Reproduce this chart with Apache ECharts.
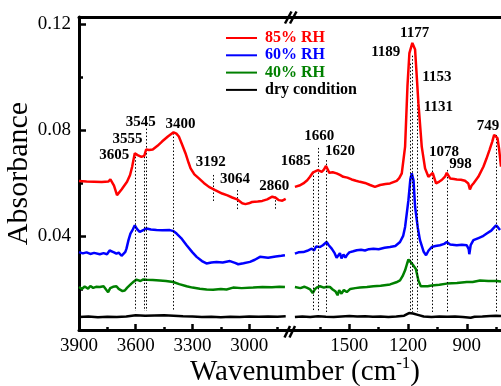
<!DOCTYPE html>
<html>
<head>
<meta charset="utf-8">
<script src="https://cdn.jsdelivr.net/npm/echarts@6/dist/echarts.min.js"></script>
<style>
  html, body { margin: 0; padding: 0; background: #fff; }
  #chart { width: 501px; height: 386px; }
</style>
</head>
<body>
<div id="chart"></div>
<script>
// spectra: [wavenumber, absorbance]
var red85L = [[3900,0.0607],[3860,0.0605],[3820,0.0604],[3780,0.0603],[3745,0.0605],[3734,0.0613],[3715,0.0590],[3699,0.0554],[3675,0.0575],[3646,0.0604],[3630,0.0630],[3619,0.0661],[3605,0.0712],[3590,0.0705],[3570,0.0698],[3555,0.0702],[3545,0.0726],[3530,0.0724],[3510,0.0726],[3485,0.0740],[3461,0.0756],[3430,0.0775],[3400,0.0791],[3385,0.0786],[3372,0.0775],[3355,0.0745],[3337,0.0712],[3320,0.0675],[3310,0.0655],[3290,0.0632],[3266,0.0617],[3240,0.0600],[3213,0.0585],[3180,0.0573],[3143,0.0560],[3115,0.0553],[3090,0.0545],[3064,0.0538],[3037,0.0523],[3020,0.0520],[3002,0.0523],[2985,0.0528],[2975,0.0535],[2955,0.0530],[2931,0.0532],[2905,0.0538],[2878,0.0548],[2860,0.0544],[2843,0.0535],[2825,0.0533],[2807,0.0540]];
var red85R = [[1778,0.0585],[1755,0.0590],[1735,0.0598],[1715,0.0610],[1701,0.0623],[1685,0.0640],[1676,0.0646],[1660,0.0648],[1641,0.0642],[1630,0.0650],[1619,0.0664],[1602,0.0638],[1585,0.0640],[1565,0.0636],[1548,0.0630],[1531,0.0623],[1510,0.0620],[1488,0.0613],[1466,0.0608],[1446,0.0604],[1420,0.0600],[1394,0.0592],[1369,0.0585],[1343,0.0592],[1315,0.0596],[1292,0.0598],[1258,0.0608],[1245,0.0618],[1232,0.0636],[1215,0.0737],[1203,0.0964],[1193,0.1090],[1178,0.1128],[1164,0.1103],[1147,0.0901],[1130,0.0737],[1113,0.0655],[1096,0.0623],[1074,0.0638],[1057,0.0598],[1040,0.0605],[1028,0.0611],[1010,0.0625],[1002,0.0638],[985,0.0617],[965,0.0615],[951,0.0613],[930,0.0612],[909,0.0608],[892,0.0598],[884,0.0575],[880,0.0573],[875,0.0590],[866,0.0598],[841,0.0623],[815,0.0661],[800,0.0690],[784,0.0724],[770,0.0755],[760,0.0781],[752,0.0785],[743,0.0769],[735,0.0730],[725,0.0661]];
var blue60L = [[3900,0.0339],[3880,0.0334],[3860,0.0338],[3840,0.0332],[3820,0.0336],[3790,0.0331],[3770,0.0335],[3752,0.0331],[3738,0.0345],[3728,0.0352],[3715,0.0338],[3702,0.0333],[3690,0.0337],[3675,0.0325],[3667,0.0327],[3655,0.0340],[3649,0.0352],[3638,0.0385],[3628,0.0409],[3615,0.0425],[3605,0.0440],[3592,0.0425],[3579,0.0415],[3560,0.0422],[3543,0.0428],[3520,0.0424],[3490,0.0422],[3460,0.0421],[3420,0.0422],[3400,0.0418],[3384,0.0409],[3360,0.0392],[3331,0.0365],[3300,0.0338],[3278,0.0321],[3250,0.0305],[3226,0.0296],[3200,0.0300],[3173,0.0302],[3140,0.0300],[3102,0.0305],[3075,0.0298],[3058,0.0293],[3030,0.0297],[2996,0.0302],[2970,0.0310],[2943,0.0321],[2900,0.0318],[2860,0.0322],[2830,0.0325],[2811,0.0327]];
var blue60R = [[1778,0.0333],[1760,0.0338],[1735,0.0339],[1715,0.0344],[1692,0.0352],[1680,0.0345],[1670,0.0360],[1650,0.0358],[1635,0.0365],[1616,0.0377],[1605,0.0365],[1590,0.0352],[1575,0.0335],[1565,0.0318],[1556,0.0321],[1548,0.0335],[1540,0.0315],[1530,0.0330],[1520,0.0318],[1513,0.0327],[1500,0.0338],[1480,0.0342],[1462,0.0346],[1440,0.0348],[1420,0.0345],[1400,0.0350],[1377,0.0352],[1350,0.0350],[1320,0.0355],[1292,0.0358],[1265,0.0362],[1241,0.0377],[1225,0.0400],[1215,0.0434],[1198,0.0535],[1188,0.0615],[1181,0.0636],[1172,0.0610],[1164,0.0510],[1150,0.0430],[1139,0.0384],[1120,0.0340],[1108,0.0327],[1095,0.0345],[1079,0.0358],[1060,0.0362],[1037,0.0365],[1015,0.0370],[1002,0.0377],[985,0.0368],[951,0.0365],[925,0.0367],[900,0.0365],[890,0.0350],[887,0.0331],[880,0.0365],[866,0.0384],[840,0.0392],[820,0.0398],[798,0.0409],[775,0.0420],[760,0.0432],[750,0.0440],[740,0.0432],[730,0.0422]];
var green40L = [[3900,0.0207],[3885,0.0200],[3870,0.0209],[3852,0.0201],[3840,0.0211],[3825,0.0204],[3810,0.0208],[3790,0.0207],[3770,0.0210],[3755,0.0196],[3746,0.0188],[3735,0.0203],[3720,0.0208],[3702,0.0210],[3690,0.0200],[3680,0.0207],[3670,0.0192],[3658,0.0194],[3645,0.0205],[3635,0.0198],[3623,0.0220],[3610,0.0228],[3596,0.0235],[3575,0.0230],[3560,0.0236],[3543,0.0235],[3510,0.0234],[3473,0.0232],[3440,0.0230],[3402,0.0226],[3370,0.0218],[3331,0.0210],[3300,0.0205],[3261,0.0201],[3225,0.0198],[3191,0.0197],[3150,0.0200],[3120,0.0198],[3085,0.0205],[3040,0.0203],[2979,0.0205],[2930,0.0207],[2880,0.0206],[2840,0.0208],[2811,0.0207]];
var green40R = [[1778,0.0207],[1750,0.0203],[1730,0.0208],[1718,0.0205],[1700,0.0198],[1687,0.0184],[1675,0.0200],[1662,0.0207],[1650,0.0210],[1630,0.0205],[1615,0.0208],[1599,0.0207],[1585,0.0198],[1570,0.0190],[1560,0.0176],[1552,0.0195],[1540,0.0182],[1528,0.0196],[1513,0.0188],[1495,0.0200],[1470,0.0203],[1446,0.0205],[1410,0.0207],[1377,0.0210],[1340,0.0212],[1292,0.0217],[1260,0.0225],[1241,0.0232],[1228,0.0248],[1215,0.0270],[1205,0.0295],[1198,0.0311],[1185,0.0300],[1173,0.0289],[1160,0.0275],[1147,0.0232],[1135,0.0210],[1125,0.0205],[1100,0.0210],[1079,0.0213],[1040,0.0216],[1002,0.0220],[950,0.0222],[900,0.0226],[870,0.0226],[832,0.0232],[790,0.0230],[746,0.0230],[725,0.0228]];
var dryL = [[3900,0.0094],[3850,0.0096],[3800,0.0093],[3750,0.0095],[3700,0.0094],[3650,0.0096],[3600,0.0101],[3550,0.0099],[3500,0.0100],[3450,0.0101],[3400,0.0099],[3350,0.0097],[3300,0.0096],[3250,0.0094],[3200,0.0095],[3150,0.0093],[3100,0.0095],[3050,0.0094],[3000,0.0096],[2950,0.0095],[2900,0.0096],[2850,0.0095],[2807,0.0097]];
var dryR = [[1778,0.0094],[1740,0.0096],[1700,0.0094],[1660,0.0097],[1620,0.0095],[1580,0.0094],[1540,0.0096],[1500,0.0098],[1460,0.0096],[1420,0.0097],[1380,0.0095],[1340,0.0096],[1300,0.0094],[1260,0.0096],[1220,0.0099],[1195,0.0109],[1175,0.0107],[1150,0.0102],[1120,0.0096],[1080,0.0094],[1040,0.0096],[1000,0.0095],[960,0.0096],[920,0.0094],[880,0.0091],[860,0.0095],[820,0.0096],[780,0.0098],[750,0.0099],[725,0.0098]];

// ticks
var xMajorL = [3900, 3600, 3300, 3000];
var xMinorL = [3750, 3450, 3150, 2850];
var xMajorR = [1500, 1200, 900];
var xMinorR = [1650, 1350, 1050, 750];
var yMajor = [0.04, 0.08, 0.12];
var yMinor = [0.02, 0.06, 0.10];

// peak annotations: [label, label wavenumber, label absorbance]
var peakTextL = [['3545',3574,0.0828],['3400',3363,0.0823],['3555',3643,0.0767],['3605',3714,0.0706],['3192',3203,0.0677],['3064',3075,0.0616],['2860',2868,0.0588]];
var peakTextR = [['1685',1774,0.0683],['1660',1654,0.0778],['1620',1548,0.0721],['1177',1166,0.1166],['1189',1314,0.1093],['1153',1053,0.0999],['1131',1045,0.0885],['1078',1016,0.0715],['998',932,0.0671],['749',791,0.0813]];
// dotted guides: [wavenumber, from, to]
var peakLineL = [[3605,0.0712,0.0117],[3555,0.0712,0.0117],[3545,0.0805,0.0117],[3400,0.0788,0.0117],[3192,0.0630,0.0529],[3064,0.0573,0.0497],[2860,0.0548,0.0497]];
var peakLineR = [[1685,0.0641,0.0113],[1660,0.0732,0.0113],[1620,0.0686,0.0113],[1189,0.1050,0.0113],[1177,0.1080,0.0113],[1153,0.1000,0.0113],[1078,0.0686,0.0113],[998,0.0649,0.0113],[749,0.0781,0.0113]];

var SERIF = 'Liberation Serif';
var names = ['85% RH', '60% RH', '40% RH', 'dry condition'];
var colors = ['#ff0000', '#0000ff', '#008000', '#000000'];

var chart = echarts.init(document.getElementById('chart'));

function xAx(gi, pos, ticks, len, labels, opts) {
    return {
        type: 'value', gridIndex: gi, position: pos, inverse: true,
        min: opts.min, max: opts.max,
        axisLine: { show: !!opts.line, onZero: false, lineStyle: { color: '#000', width: 3 } },
        axisTick: { show: !!ticks, inside: true, length: len, customValues: ticks || [], lineStyle: { color: '#000', width: 2.5 } },
        axisLabel: { show: !!labels, customValues: labels || [], margin: 7, color: '#000', fontFamily: SERIF, fontSize: 19,
            formatter: function (v) { return String(v); } },
        splitLine: { show: false }
    };
}
function yAx(gi, ticks, len, labels, line) {
    return {
        type: 'value', gridIndex: gi, position: 'left', min: 0.0045, max: 0.1226,
        axisLine: { show: line, onZero: false, lineStyle: { color: '#000', width: 3 } },
        axisTick: { show: !!ticks, inside: true, length: len, customValues: ticks || [], lineStyle: { color: '#000', width: 2.5 } },
        axisLabel: { show: !!labels, customValues: labels || [], margin: 8, color: '#000', fontFamily: SERIF, fontSize: 19,
            formatter: function (v) { return v.toFixed(2); } },
        splitLine: { show: false }
    };
}

var L = { min: 2779, max: 3900 }, R = { min: 725, max: 1798 };

var xAxes = [
    xAx(0, 'bottom', xMajorL, 6, xMajorL, { min: L.min, max: L.max, line: true }),
    xAx(0, 'bottom', xMinorL, 3, null, L),
    xAx(0, 'top', null, 0, null, { min: L.min, max: L.max, line: true }),
    xAx(1, 'bottom', xMajorR, 6, xMajorR, { min: R.min, max: R.max, line: true }),
    xAx(1, 'bottom', xMinorR, 3, null, R),
    xAx(1, 'top', null, 0, null, { min: R.min, max: R.max, line: true })
];
var yAxes = [yAx(0, yMajor, 7, yMajor, true), yAx(0, yMinor, 4, null, false), yAx(1, null, 0, null, false)];
yAxes[0].name = 'Absorbance';
yAxes[0].nameLocation = 'middle';
yAxes[0].nameGap = 41;
yAxes[0].nameTextStyle = { fontFamily: SERIF, fontSize: 30, color: '#000' };

var sets = [[red85L, red85R], [blue60L, blue60R], [green40L, green40R], [dryL, dryR]];
var series = [];
sets.forEach(function (pair, i) {
    pair.forEach(function (d, side) {
        series.push({
            type: 'line', name: names[i], data: d,
            xAxisIndex: side ? 3 : 0, yAxisIndex: side ? 2 : 0,
            symbol: 'none', z: 5 - i,
            lineStyle: { color: colors[i], width: 2.5 }, itemStyle: { color: colors[i] }
        });
    });
});

function peaks(texts, lines, side) {
    return {
        type: 'scatter', name: 'peaks' + side, silent: true,
        xAxisIndex: side ? 3 : 0, yAxisIndex: side ? 2 : 0,
        symbolSize: 0, clip: false, z: 1,
        itemStyle: { color: '#000', opacity: 1 },
        data: texts.map(function (t) { return [t[1], t[2], t[0]]; }),
        label: { show: true, position: 'inside', formatter: function (p) { return p.value[2]; },
            color: '#000', opacity: 1, textBorderWidth: 0, fontFamily: SERIF, fontWeight: 'bold', fontSize: 15 },
        markLine: {
            silent: true, symbol: 'none', animation: false, label: { show: false },
            lineStyle: { color: '#000', width: 1, opacity: 1, type: [1.5, 2] },
            data: lines.map(function (l) { return [{ coord: [l[0], l[1]] }, { coord: [l[0], l[2]] }]; })
        }
    };
}
series.push(peaks(peakTextL, peakLineL, 0));
series.push(peaks(peakTextR, peakLineR, 1));

var option = {
    animation: false,
    backgroundColor: '#fff',
    grid: [
        { left: 79, top: 17, width: 212, bottom: 56 },
        { left: 291, top: 17, right: 0, bottom: 56 }
    ],
    xAxis: xAxes,
    yAxis: yAxes,
    legend: {
        orient: 'vertical', left: 226, top: 30, padding: 0,
        icon: 'rect', itemWidth: 31, itemHeight: 2, itemGap: 1.3,
        textStyle: { fontFamily: SERIF, fontWeight: 'bold', fontSize: 16, lineHeight: 16, padding: [0, 0, 0, 3] },
        data: names.map(function (n, i) { return { name: n, textStyle: { color: colors[i] } }; })
    },
    graphic: [
        { type: 'text', x: 305, y: 372, z: 10,
          style: { text: '{a|Wavenumber (cm}{s|-1}{a|)}', align: 'center', verticalAlign: 'middle',
            rich: { a: { fontFamily: SERIF, fontSize: 29, fill: '#000' },
                    s: { fontFamily: SERIF, fontSize: 17, fill: '#000', padding: [0, 0, 16, 0] } } } },
        { type: 'line', z: 10, shape: { x1: 285, y1: 23.5, x2: 291.5, y2: 11.5 }, style: { stroke: '#000', lineWidth: 2.5 } },
        { type: 'line', z: 10, shape: { x1: 290, y1: 23.5, x2: 296.5, y2: 11.5 }, style: { stroke: '#000', lineWidth: 2.5 } },
        { type: 'line', z: 10, shape: { x1: 284.5, y1: 337.5, x2: 290, y2: 326 }, style: { stroke: '#000', lineWidth: 2.5 } },
        { type: 'line', z: 10, shape: { x1: 289.5, y1: 337.5, x2: 295, y2: 326 }, style: { stroke: '#000', lineWidth: 2.5 } }
    ],
    series: series
};
chart.setOption(option);
</script>
</body>
</html>
